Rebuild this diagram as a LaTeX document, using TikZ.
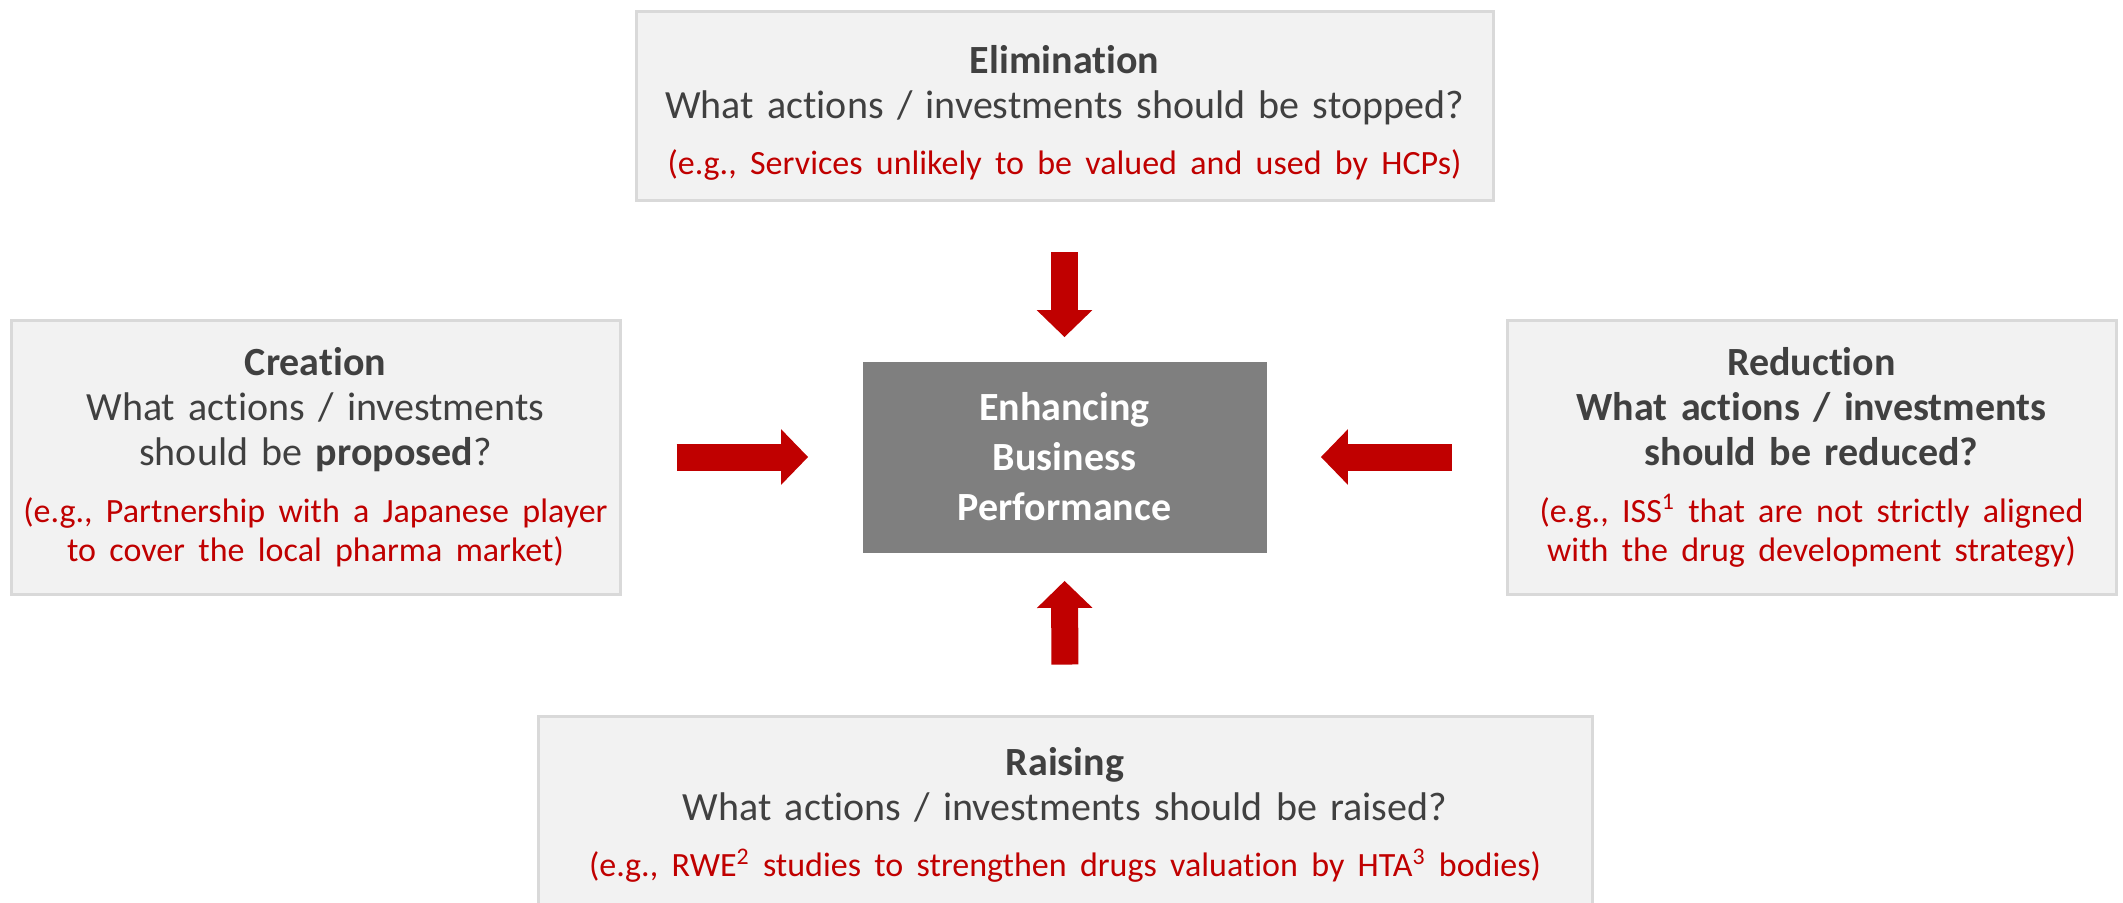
\documentclass[tikz,border=0pt]{standalone}
\usepackage{fontspec}
\setmainfont{Carlito}[RawFeature={-liga;-clig;-calt;-dlig}]
\usepackage{xcolor}
\usetikzlibrary{arrows.meta}

\definecolor{boxfill}{HTML}{F2F2F2}
\definecolor{boxline}{HTML}{D9D9D9}
\definecolor{textgrey}{HTML}{404040}
\definecolor{exred}{HTML}{C00000}
\definecolor{coregrey}{HTML}{7F7F7F}
\newcommand{\exfont}{\centering\fontsize{17}{19.5}\selectfont\color{exred}}

\begin{document}
\begin{tikzpicture}[x=0.5pt, y=-0.5pt,
  field/.style={draw=boxline, line width=1.5pt, fill=boxfill, inner sep=0pt,
    align=center, text=textgrey, font=\fontsize{20}{22.5}\selectfont},
  core/.style={fill=coregrey, inner sep=0pt, align=center, text=white,
    font=\fontsize{20}{25}\selectfont\bfseries},
  push/.style={draw=exred, line width=13.5pt, -{Triangle[width=27pt,length=13.5pt]}}]
\useasboundingbox (0,0) rectangle (2123,902);

% centre box
\node[core, minimum width=202pt, minimum height=95.5pt] (perf) at (1064.5,457)
  {Enhancing\\Business\\Performance};

% the four boxes
\node[field, text width=420pt, minimum width=428.5pt, minimum height=94.5pt] (elim) at (1064.5,106)
  {\rule{0pt}{21pt}\textbf{Elimination}\\What actions / investments should be stopped?\par
   \vspace{8.5pt}{\exfont (e.g., Services unlikely to be valued and used by HCPs)\par}};
\node[field, text width=298pt, minimum width=304.5pt, minimum height=137pt] (create) at (315.5,457)
  {\textbf{Creation}\\What actions / investments\\should be \textbf{proposed}?\par
   \vspace{9pt}{\exfont (e.g., Partnership with a Japanese player\\to cover the local pharma market)\par}};
\node[field, text width=298pt, minimum width=304.5pt, minimum height=137pt] (reduce) at (1811.5,457)
  {\textbf{Reduction}\\\textbf{What actions / investments}\\\textbf{should be reduced?}\par
   \vspace{9pt}{\exfont (e.g., ISS\textsuperscript{1} that are not strictly aligned\\with the drug development strategy)\par}};
\node[field, text width=515pt, minimum width=527pt, minimum height=99pt] (raise) at (1065,815)
  {\textbf{Raising}\\What actions / investments should be raised?\par
   \vspace{8.5pt}{\exfont (e.g., RWE\textsuperscript{2} studies to strengthen drugs valuation by HTA\textsuperscript{3} bodies)\par}};

% arrows into the centre
\draw[push, shorten <=25pt, shorten >=12pt] (elim.south) -- (perf.north);
\draw[push, shorten <=25pt, shorten >=14pt] (raise.north) -- (perf.south);
\draw[push, shorten <=27.5pt, shorten >=27pt] (create.east) -- (perf.west);
\draw[push, shorten <=27pt, shorten >=27pt] (reduce.west) -- (perf.east);

\end{tikzpicture}
\end{document}
